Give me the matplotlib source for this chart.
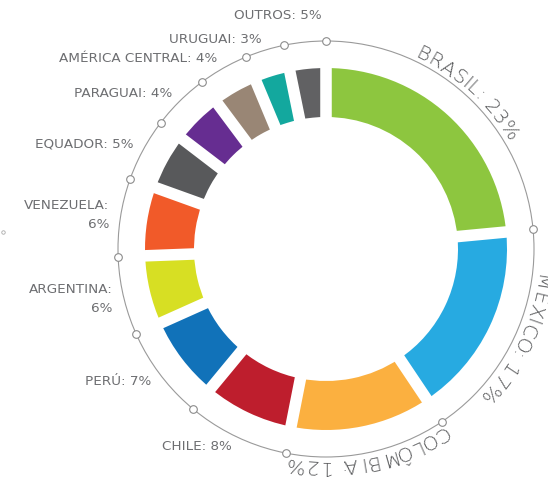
import numpy as np
import matplotlib
matplotlib.use("Agg")
import matplotlib.pyplot as plt
from matplotlib.patches import Circle
from matplotlib.font_manager import FontProperties, findfont, get_font

# dados (fatias medidas no desenho, rótulos como aparecem)
paises = ["BRASIL", "MÉXICO", "COLÔMBIA", "CHILE", "PERÚ", "ARGENTINA",
          "VENEZUELA", "EQUADOR", "PARAGUAI", "AMÉRICA CENTRAL", "URUGUAI", "OUTROS"]
rotulos_pct = ["23%", "17%", "12%", "8%", "7%", "6%", "6%", "5%", "4%", "4%", "3%", "5%"]
fatias = [23.5, 17.1, 12.5, 7.9, 7.3, 6.1, 6.1, 4.9, 4.4, 3.9, 3.1, 3.2]
cores = ["#8dc63f", "#27aae1", "#fbb040", "#be1e2d", "#1172b9", "#d7df23",
         "#f15a29", "#58595b", "#662d91", "#998675", "#13a89e", "#616163"]

n_curvos = 3  # os tres maiores vao em texto curvo
quebra = {"VENEZUELA", "ARGENTINA"}

cx, cy = 326, 231
R_ext, espessura = 181, 49
R_anel = 208
cinza = "#6d6e71"

fig = plt.figure(figsize=(5.48, 4.8), dpi=100)
ax = fig.add_axes([0, 0, 1, 1])

ax.pie(fatias, colors=cores, startangle=90, counterclock=False,
       radius=R_ext, center=(cx, cy),
       wedgeprops=dict(width=espessura, linewidth=0))
ax.set_xlim(0, 548)
ax.set_ylim(0, 480)
ax.set_aspect("equal")
ax.axis("off")

# angulos no sentido horario a partir do topo
acum = np.cumsum([0] + fatias) / sum(fatias) * 360
limites = acum[:-1]
meios = (acum[:-1] + acum[1:]) / 2


def ponto(theta, r):
    phi = np.radians(90 - theta)
    return cx + r * np.cos(phi), cy + r * np.sin(phi)


# espacos brancos entre as fatias
for t in limites:
    x0, y0 = ponto(t, R_ext - espessura - 3)
    x1, y1 = ponto(t, R_ext + 3)
    ax.plot([x0, x1], [y0, y1], color="white", lw=8.3, solid_capstyle="butt")

# anel externo com marcadores
ax.add_patch(Circle((cx, cy), R_anel, fill=False, ec="#9a9a9a", lw=0.8))
mx, my = ponto(limites, R_anel)
ax.plot(mx, my, "o", ms=5.5, mfc="white", mec="#8c8c8c", mew=0.8, zorder=5)
ax.plot([3], [480 - 232], "o", ms=2.5, mfc="white", mec="#aaaaaa", mew=0.6)

# texto curvo
tam = 14.5
fp_curvo = FontProperties(family="DejaVu Sans", weight=200, size=tam)
fonte = get_font(findfont(fp_curvo))
fonte.set_size(tam, 72)
R_base = 211.5
for i in range(n_curvos):
    s = f"{paises[i]}: {rotulos_pct[i]}"
    avancos = [fonte.load_char(ord(c)).linearHoriAdvance / 65536 * 100 / 72 for c in s]
    total = sum(avancos)
    pos = np.cumsum(avancos) - np.array(avancos) / 2 - total / 2
    for c, o in zip(s, pos):
        t = meios[i] + np.degrees(o / R_base)
        x, y = ponto(t, R_base)
        ax.text(x, y, c, fontproperties=fp_curvo, color="#58595b", rotation=-t,
                rotation_mode="anchor", ha="center", va="baseline")

# rotulos retos
for i in range(n_curvos, len(paises)):
    sep = "\n" if paises[i] in quebra else " "
    texto = f"{paises[i]}:{sep}{rotulos_pct[i]}"
    if paises[i] == "OUTROS":
        x, y = ponto(359, 234)
    else:
        x, y = ponto(meios[i], 219)
    ax.text(x, y, texto, fontsize=9.7, color=cinza, ha="right", va="center",
            multialignment="right", linespacing=1.6, family="DejaVu Sans")

fig.savefig("out.png", dpi=100)
